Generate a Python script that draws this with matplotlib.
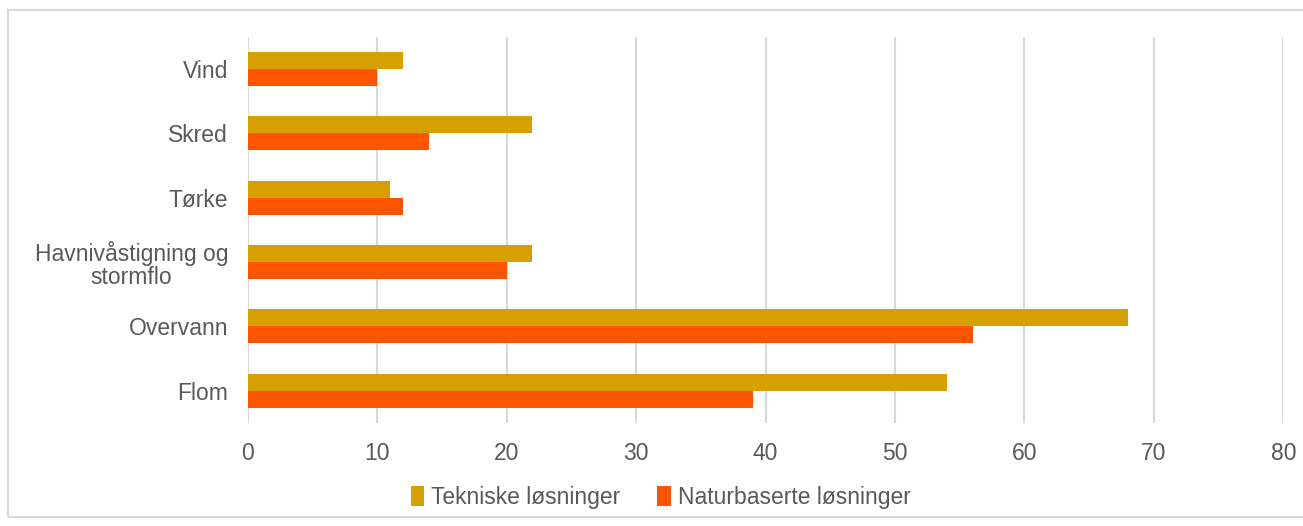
import numpy as np
import matplotlib.pyplot as plt
from matplotlib.patches import Rectangle

categories = ['Flom', 'Overvann', 'Havnivåstigning og\nstormflo', 'Tørke', 'Skred', 'Vind']
tekniske = [54, 68, 22, 11, 22, 12]
naturbaserte = [39, 56, 20, 12, 14, 10]

plt.rcParams['font.family'] = ['Liberation Sans', 'DejaVu Sans']
txt = '#595959'

fig = plt.figure(figsize=(13.03, 5.26), dpi=100)
ax = fig.add_axes([0.19, 0.196, 0.795, 0.734])

y = np.arange(len(categories))
h = 0.265
ax.barh(y + h / 2, tekniske, height=h, color='#D5A000', label='Tekniske løsninger', zorder=3)
ax.barh(y - h / 2, naturbaserte, height=h, color='#FF5400', label='Naturbaserte løsninger', zorder=3)

ax.set_xlim(0, 80)
ax.set_ylim(-0.5, len(categories) - 0.5)
ax.set_xticks(np.arange(0, 81, 10))
ax.set_yticks(y)
ax.set_yticklabels(categories, multialignment='center', linespacing=1.05)
ax.grid(axis='x', color='#D9D9D9', linewidth=1.5, zorder=0)
for s in ax.spines.values():
    s.set_visible(False)
ax.tick_params(length=0, labelsize=16.5, colors=txt)
ax.tick_params(axis='y', pad=14)
ax.tick_params(axis='x', pad=14)

leg = fig.legend(loc='center', bbox_to_anchor=(0.507, 0.055), ncol=2, frameon=False,
                 fontsize=16.5, handlelength=0.6, handleheight=1.0, handletextpad=0.3,
                 columnspacing=1.6)
for t in leg.get_texts():
    t.set_color(txt)

fig.patches.append(Rectangle((0.006, 0.017), 1.0, 0.964, transform=fig.transFigure,
                             fill=False, edgecolor='#D9D9D9', linewidth=1.5))

fig.savefig('out.png', dpi=100)
